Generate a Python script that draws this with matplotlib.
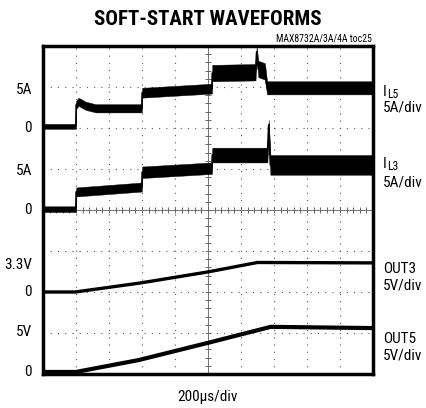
import numpy as np
import matplotlib
matplotlib.use("Agg")
import matplotlib.pyplot as plt
import matplotlib.transforms as mtransforms

plt.rcParams['font.family'] = ['Roboto Condensed', 'DejaVu Sans']

# Datos (tiempo en us, corriente en A, tension en V)
t_il5 = [0, 199, 201, 215, 260, 320, 599, 601, 1024, 1026, 1288, 1295, 1305, 1345, 1358, 2000]
v_il5 = [0.2, 0.2, 2.8, 3.2, 2.7, 2.4, 2.4, 4.3, 4.8, 6.7, 6.8, 9.3, 7.2, 6.9, 4.9, 4.9]
hw_il5 = [0.3, 0.3, 0.5, 0.5, 0.5, 0.5, 0.5, 0.6, 0.6, 1.0, 1.0, 0.6, 1.0, 1.0, 0.8, 0.8]

t_il3 = [0, 199, 201, 599, 601, 1024, 1026, 1360, 1368, 1378, 2000]
v_il3 = [0.1, 0.1, 2.2, 2.8, 4.6, 5.1, 6.7, 6.7, 10.4, 5.5, 5.5]
hw_il3 = [0.35, 0.35, 0.55, 0.55, 0.7, 0.7, 0.9, 0.9, 0.6, 1.2, 1.2]

t_out3 = [0, 195, 590, 1000, 1300, 2000]
v_out3 = [0.0, 0.0, 1.1, 2.45, 3.6, 3.55]

t_out5 = [0, 200, 580, 1000, 1380, 2000]
v_out5 = [0.0, 0.0, 1.45, 3.55, 5.5, 5.35]

# Escalas de pantalla (unidades por division) y posicion del cero (divisiones)
us_div = 200
a_div = 5
v_div = 5
z_il5, z_il3, z_out3, z_out5 = 6, 4, 2, 0.05

fig = plt.figure(figsize=(4.26, 4.08), dpi=100)
ax = fig.add_axes([43 / 426, 34 / 408, 330 / 426, 328 / 408])
ax.set_xlim(0, 10 * us_div)
ax.set_ylim(0, 8)

# Reticula
for k in range(1, 10):
    ax.axvline(k * us_div, color='0.35', lw=0.8, ls=(0, (1, 5.5)), zorder=1)
for k in range(1, 8):
    ax.axhline(k, color='0.35', lw=0.8, ls=(0, (1, 5.5)), zorder=1)
ax.axhline(4, color='0.45', lw=0.7, zorder=1)
ax.axvline(5 * us_div, color='0.45', lw=0.7, zorder=1)
mt = np.arange(0, 10 * us_div + 1, us_div / 5)
ax.plot(mt, np.full(len(mt), 4), ls='none', marker='|', ms=5, color='0.4', mew=0.7, zorder=1)
mv = np.arange(0, 8.01, 0.2)
ax.plot(np.full(len(mv), 5 * us_div), mv, ls='none', marker='_', ms=5, color='0.4', mew=0.7, zorder=1)

# Trazas
def trace(t, v, hw, zero, scale):
    v = np.array(v) / scale + zero
    hw = np.array(hw) / scale
    ax.fill_between(t, v - hw, v + hw, color='black', lw=0.3, zorder=3)
    ax.plot(t, v, color='black', lw=1.2, zorder=3)

trace(t_il5, v_il5, hw_il5, z_il5, a_div)
trace(t_il3, v_il3, hw_il3, z_il3, a_div)
ax.plot(t_out3, np.array(v_out3) / v_div + z_out3, color='black', lw=2.4, zorder=3)
ax.plot(t_out5, np.array(v_out5) / v_div + z_out5, color='black', lw=3.0, zorder=3)

ax.set_xticks([])
ax.set_yticks([])
for s in ax.spines.values():
    s.set_linewidth(2.5)

# Etiquetas
tr = mtransforms.blended_transform_factory(ax.transAxes, ax.transData)
left = [("5A", z_il5 + 0.93), ("0", z_il5), ("5A", z_il3 + 0.95), ("0", z_il3),
        ("3.3V", z_out3 + 3.3 / v_div), ("0", z_out3), ("5V", z_out5 + 0.97), ("0", z_out5)]
for txt, y in left:
    ax.text(-0.033, y, txt, transform=tr, ha='right', va='center', fontsize=11)

right = [("5A/div", 6.49), ("5A/div", 4.66),
         ("OUT3", 2.56), ("5V/div", 2.15), ("OUT5", 0.85), ("5V/div", 0.44)]
for txt, y in right:
    ax.text(1.03, y, txt, transform=tr, ha='left', va='center', fontsize=11)

# I con subindice
for sub, y in [("L5", 6.87), ("L3", 5.12)]:
    ax.text(1.03, y, "I", transform=tr, ha='left', va='center', fontsize=11)
    ax.text(1.043, y - 0.06, sub, transform=tr, ha='left', va='center', fontsize=8.5)

fig.text(0.487, 0.952, "SOFT-START WAVEFORMS", ha='center', va='center',
         fontsize=15, fontweight='bold')
fig.text(0.873, 0.906, "MAX8732A/3A/4A toc25", ha='right', va='center', fontsize=7)
fig.text(0.486, 0.028, "200\u03bcs/div", ha='center', va='center', fontsize=11)

fig.savefig("out.png", dpi=100)
